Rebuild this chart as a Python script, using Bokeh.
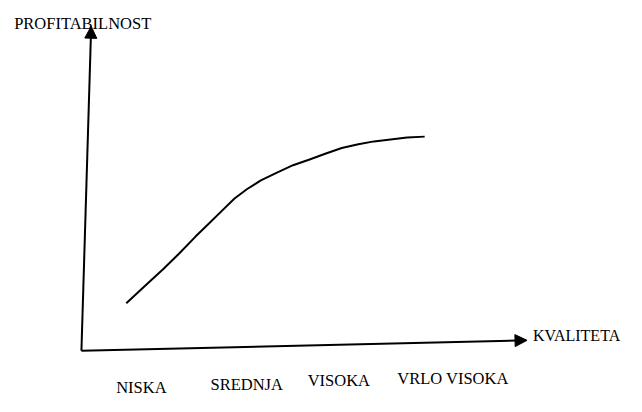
from bokeh.plotting import figure
from bokeh.models import Range1d, Arrow, NormalHead, ColumnDataSource
from bokeh.core.properties import value
from bokeh.embed import file_html
from bokeh.resources import INLINE

# ---- data (origin of the axes = 0,0) ----
quality = [0.46, 0.67, 0.84, 1.00, 1.17, 1.30, 1.44, 1.57, 1.70, 1.84, 2.00, 2.17,
           2.34, 2.50, 2.67, 2.84, 3.00, 3.17, 3.34, 3.52]
profitability = [0.50, 0.70, 0.86, 1.02, 1.20, 1.33, 1.47, 1.60, 1.70, 1.79, 1.87, 1.95,
                 2.01, 2.07, 2.13, 2.17, 2.20, 2.22, 2.24, 2.25]

categories = ["NISKA", "SREDNJA", "VISOKA", "VRLO VISOKA"]
category_x = [0.615, 1.695, 2.64, 3.81]
category_y = [-0.39, -0.35, -0.31, -0.29]

x_title = "KVALITETA"
y_title = "PROFITABILNOST"

# axis ends (scan is slightly skewed)
x_axis_end = (4.57, 0.11)
y_axis_end = (0.10, 3.41)

FONT = "Liberation Serif"

p = figure(width=626, height=396, output_backend="svg", toolbar_location=None,
           x_range=Range1d(-0.83, 5.59), y_range=Range1d(-0.48, 3.68),
           min_border=0, min_border_left=0, min_border_right=0,
           min_border_top=0, min_border_bottom=0)
p.axis.visible = False
p.grid.visible = False
p.outline_line_color = None
p.background_fill_color = "white"
p.border_fill_color = "white"

# axes with arrow heads
p.add_layout(Arrow(end=NormalHead(size=12, fill_color="black", line_color="black"),
                   x_start=0, y_start=0, x_end=x_axis_end[0], y_end=x_axis_end[1],
                   line_width=2, line_color="black"))
p.add_layout(Arrow(end=NormalHead(size=12, fill_color="black", line_color="black"),
                   x_start=0, y_start=0, x_end=y_axis_end[0], y_end=y_axis_end[1],
                   line_width=2, line_color="black"))

# the curve
p.line(quality, profitability, line_width=2, line_color="black", line_join="round")

# category labels
src = ColumnDataSource(dict(x=category_x, y=category_y, t=categories))
p.text(x="x", y="y", text="t", source=src, text_align="center",
       text_baseline="alphabetic", text_font=value(FONT),
       text_font_size="16.5px", text_color="black")

# axis titles
p.text(x=[4.63], y=[0.16], text=[x_title], text_align="left",
       text_baseline="alphabetic", text_font=value(FONT),
       text_font_size="16px", text_color="black")
p.text(x=[-0.69], y=[3.44], text=[y_title], text_align="left",
       text_baseline="alphabetic", text_font=value(FONT),
       text_font_size="16.5px", text_color="black")

open("out.html", "w").write(file_html(p, INLINE))
